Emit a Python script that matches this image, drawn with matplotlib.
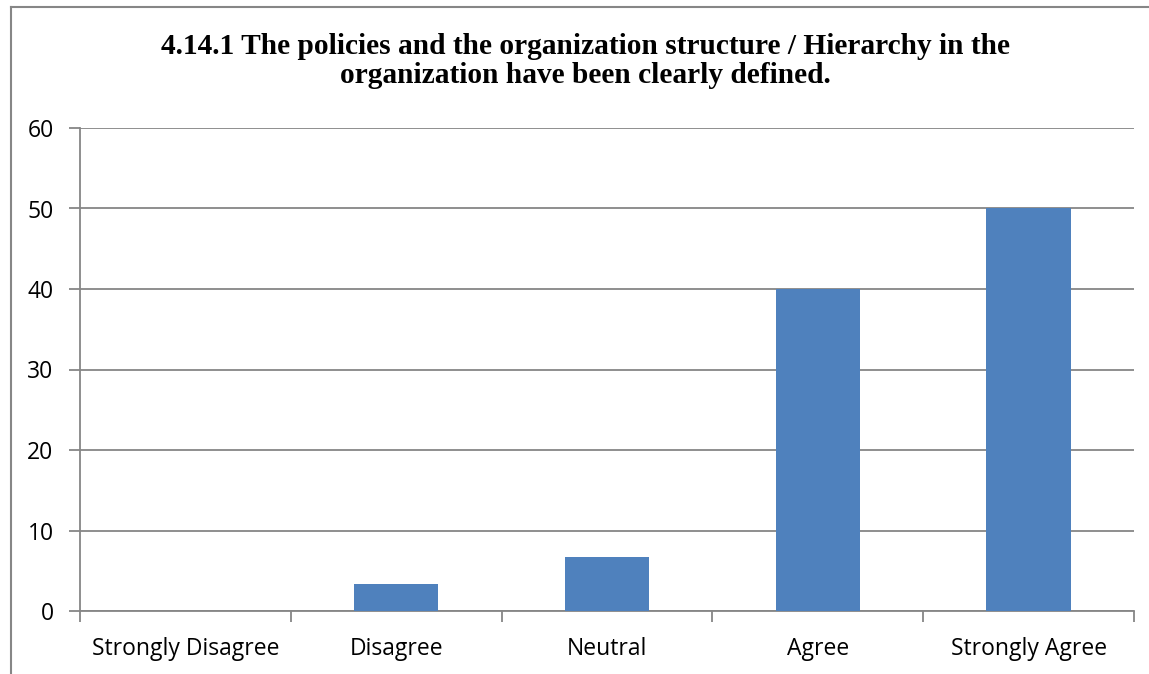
import matplotlib.pyplot as plt
from matplotlib.lines import Line2D

# survey responses (percent)
categories = ["Strongly Disagree", "Disagree", "Neutral", "Agree", "Strongly Agree"]
values = [0, 3.33, 6.67, 40, 50]
yticks = [0, 10, 20, 30, 40, 50, 60]

title = ("4.14.1 The policies and the organization structure / Hierarchy in the\n"
         "organization have been clearly defined.")

W, H = 1149, 674
fig = plt.figure(figsize=(W / 100, H / 100), dpi=100)
ax = fig.add_axes([80 / W, 1 - 611 / H, (1134 - 80) / W, (611 - 128) / H])

grey = "#868686"
x = range(len(categories))
ax.bar(x, values, width=0.4, color="#4F81BD", zorder=3)

ax.set_xlim(-0.5, len(categories) - 0.5)
ax.set_ylim(0, 60)
ax.set_yticks(yticks)
ax.yaxis.grid(True, color=grey, linewidth=1.3, zorder=0)

for side in ["top", "right"]:
    ax.spines[side].set_visible(False)
for side in ["left", "bottom"]:
    ax.spines[side].set_color(grey)
    ax.spines[side].set_linewidth(1.3)

# category labels centred, ticks on the boundaries
ax.set_xticks(list(x))
ax.set_xticklabels(categories, fontfamily="Open Sans", fontsize=16.5)
ax.tick_params(axis="x", which="major", length=0, pad=19)
ax.set_xticks([i - 0.5 for i in range(len(categories) + 1)], minor=True)
ax.tick_params(axis="x", which="minor", length=8, width=1.3, color=grey, direction="out")
ax.tick_params(axis="y", length=8, width=1.3, color=grey, pad=11)
for lbl in ax.get_yticklabels():
    lbl.set_fontfamily("Open Sans")
    lbl.set_fontsize(16.5)

fig.text(585.5 / W, 1 - 61 / H, title, ha="center", va="center", fontfamily="Liberation Serif",
         fontweight="bold", fontsize=21.2, linespacing=1.1)

# outer frame: left and top edges
fig.add_artist(Line2D([11 / W, 11 / W], [0, 1 - 7 / H], color=grey, linewidth=1.5,
                      transform=fig.transFigure))
fig.add_artist(Line2D([11 / W, 1], [1 - 7 / H, 1 - 7 / H], color=grey, linewidth=1.5,
                      transform=fig.transFigure))

fig.savefig("out.png", dpi=100)
